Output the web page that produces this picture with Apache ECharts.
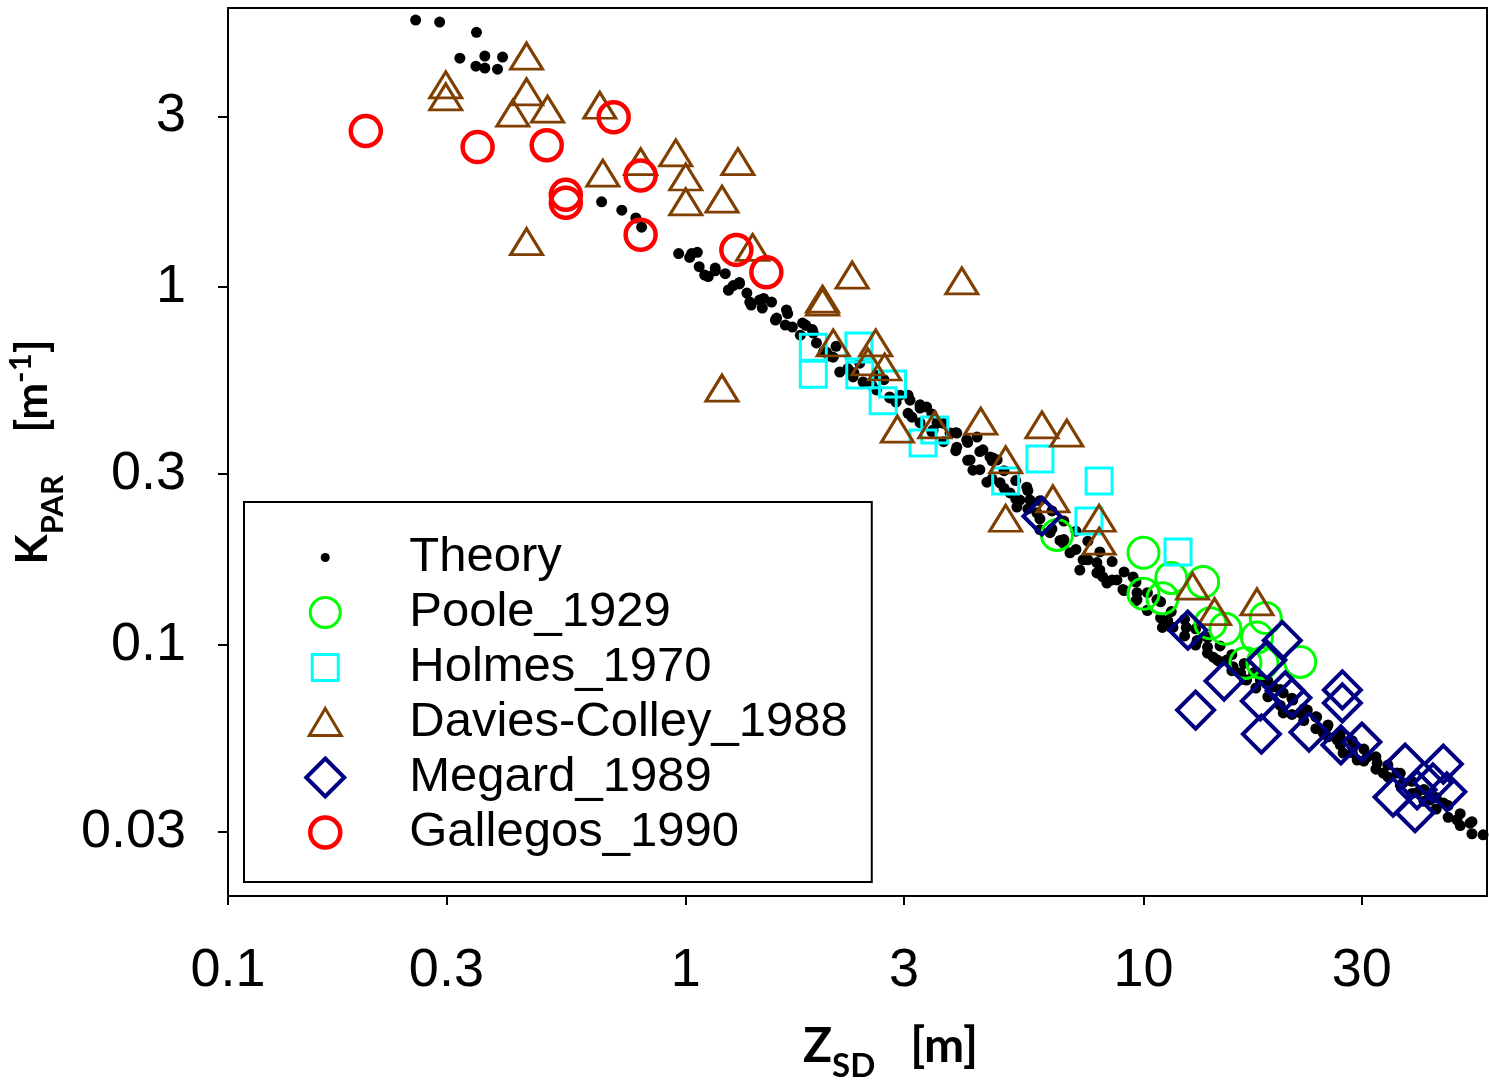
<!DOCTYPE html>
<html>
<head>
<meta charset="utf-8">
<script src="https://cdn.jsdelivr.net/npm/echarts@6/dist/echarts.min.js"></script>
<style>
html,body{margin:0;padding:0;background:#fff;}
#chart{width:1489px;height:1080px;}
</style>
</head>
<body>
<div id="chart"></div>
<script>
// ---- Data (Z_SD [m], K_PAR [1/m]) ----
const xTicks = [0.1, 0.3, 1, 3, 10, 30];
const yTicks = [0.03, 0.1, 0.3, 1, 3];

const theory = [
  [0.257,5.57],[0.290,5.50],[0.349,5.15],[0.321,4.36],[0.348,4.14],[0.364,4.42],[0.364,4.09],[0.388,4.06],[0.398,4.39],
  [0.655,1.73],[0.725,1.64],[0.778,1.56],[0.801,1.47],[0.965,1.24],[1.02,1.21],[1.06,1.25],[1.07,1.14],[1.12,1.07],
  [1.16,1.11],[1.22,1.09],[1.24,0.981],[1.27,1.01],[1.31,1.03],[1.36,0.962],[1.38,0.908],[1.45,0.920],[1.47,0.874],
  [1.54,0.908],[1.58,0.819],[1.66,0.863],[1.65,0.783],[1.71,0.773],[1.80,0.793],[1.90,0.744],[1.93,0.698],[2.03,0.658],
  [2.10,0.637],[2.17,0.579],[2.32,0.561],[2.44,0.543],[2.61,0.516],[2.79,0.493],[2.94,0.499],[3.09,0.483],[3.12,0.433],
  [3.25,0.459],[3.36,0.462],[3.47,0.399],[3.54,0.417],[3.78,0.391],[3.91,0.357],[3.91,0.391],[4.11,0.374],[4.33,0.381],
  [4.46,0.351],[4.18,0.329],[4.24,0.308],[4.62,0.335],[4.69,0.333],[4.55,0.285],[4.79,0.329],[4.86,0.284],[5.11,0.266],
  [5.29,0.243],[5.56,0.276],[5.65,0.254],[5.37,0.254],[5.85,0.234],[5.94,0.210],[6.25,0.206],[6.57,0.196],[6.67,0.193],
  [6.91,0.181],[7.26,0.162],[7.38,0.173],[7.91,0.170],[7.91,0.159],[8.15,0.155],[8.32,0.149],[8.75,0.152],[9.02,0.143],
  [9.49,0.155],[9.68,0.140],[9.68,0.134],[10.2,0.125],[10.7,0.134],[11.0,0.112],[11.3,0.117],[11.6,0.112],[12.4,0.112],
  [13.1,0.103],[13.8,0.0987],[14.2,0.0925],[14.5,0.0908],[15.2,0.0908],[15.7,0.0869],[16.3,0.0836],[16.8,0.0798],
  [17.4,0.0836],[18.0,0.0798],[19.2,0.0764],[20.2,0.0735],[20.2,0.0646],[21.2,0.0702],[22.0,0.0646],[22.8,0.0658],
  [23.9,0.0629],[24.7,0.0568],[25.2,0.0590],[26.5,0.0543],[26.9,0.0553],[27.3,0.0499],[28.7,0.0519],[29.3,0.0477],
  [30.8,0.0486],[32.4,0.0468],[33.4,0.0439],[35.8,0.0439],[36.9,0.0412],[39.6,0.0387],[42.3,0.0369],[45.2,0.0362],
  [48.4,0.0325],[51.7,0.0318],[55.2,0.0295],
  // further points read along the edges of the dense band
  [1.03,1.24],[1.10,1.08],[1.16,1.13],[1.24,0.981],[1.31,1.02],[1.39,0.891],[1.48,0.929],[1.57,0.809],[1.67,0.843],
  [1.78,0.734],[1.83,0.782],[1.89,0.761],[2.00,0.659],[2.06,0.642],[2.13,0.683],[2.26,0.592],[2.33,0.576],[2.40,0.613],
  [2.55,0.531],[2.63,0.566],[2.71,0.551],[2.79,0.490],[2.88,0.477],
  [3.06,0.499],[3.06,0.444],[3.25,0.469],[3.25,0.418],[3.45,0.442],[3.45,0.394],[3.66,0.416],[3.66,0.370],
  [3.89,0.392],[3.89,0.349],[4.13,0.368],[4.13,0.328],[4.39,0.347],[4.39,0.309],[4.67,0.327],[4.67,0.291],
  [4.96,0.307],[4.96,0.274],[5.26,0.288],[5.26,0.256],[5.59,0.270],[5.59,0.240],[5.94,0.253],[5.94,0.225],
  [6.31,0.237],[6.31,0.211],[6.70,0.222],[6.70,0.197],[7.12,0.208],[7.12,0.185],[7.56,0.195],[7.56,0.173],
  [8.03,0.182],[8.03,0.162],[8.54,0.171],[8.54,0.152],[9.07,0.160],[9.07,0.142],[9.63,0.150],[9.63,0.133],
  [10.2,0.140],[10.2,0.125],[10.9,0.132],[10.9,0.119],[11.5,0.124],[11.5,0.112],[12.3,0.118],[12.3,0.106],
  [13.0,0.111],[13.0,0.100],[13.8,0.105],[13.8,0.0949],[14.7,0.0994],[14.7,0.0897],[15.6,0.0940],[15.6,0.0848],
  [16.6,0.0888],[16.6,0.0801],[17.6,0.0840],[17.6,0.0758],[18.7,0.0794],[18.7,0.0717],[19.9,0.0751],[19.9,0.0678],
  [21.1,0.0710],[21.1,0.0640],[22.4,0.0664],[22.4,0.0615],[23.8,0.0630],[23.8,0.0584],[25.3,0.0598],[25.3,0.0554],
  [26.9,0.0568],[26.9,0.0526],[28.6,0.0540],[28.6,0.0500],[30.3,0.0512],[30.3,0.0474],[32.2,0.0487],[32.2,0.0450],
  [34.2,0.0462],[34.2,0.0428],[36.4,0.0438],[36.4,0.0406],[38.6,0.0416],[38.6,0.0385],[41.0,0.0395],[41.0,0.0366],
  [43.6,0.0375],[43.6,0.0348],[46.3,0.0356],[46.3,0.0330],[49.2,0.0338],[49.2,0.0313],[52.2,0.0321],[52.2,0.0297]
];

const poole1929 = [
  [6.47,0.203],[10.0,0.181],[11.5,0.154],[13.5,0.150],[10.0,0.139],[11.0,0.135],[14.0,0.115],
  [15.1,0.111],[18.5,0.119],[17.7,0.105],[16.7,0.0891],[18.2,0.0891],[22.0,0.0897]
];

const holmes1970 = [
  [1.90,0.679],[1.90,0.571],[2.39,0.684],[2.40,0.568],[2.83,0.536],[2.70,0.481],[3.50,0.399],
  [3.30,0.367],[5.94,0.331],[5.00,0.287],[8.00,0.287],[7.60,0.222],[11.9,0.182]
];

const daviesColley1988 = [
  [0.299,3.67],[0.299,3.40],[0.449,4.42],[0.449,3.51],[0.419,3.06],[0.499,3.14],[0.649,3.22],
  [0.659,2.08],[0.797,2.24],[0.951,2.37],[1.00,2.03],[1.00,1.73],[1.20,1.76],[1.30,2.24],
  [0.449,1.34],[1.40,1.29],[2.31,1.08],[4.01,1.04],[1.99,0.925],[1.99,0.908],[2.10,0.698],
  [2.60,0.698],[2.50,0.618],[2.72,0.598],[1.20,0.522],[2.90,0.401],[3.50,0.412],[4.41,0.422],
  [6.00,0.412],[6.80,0.391],[5.00,0.329],[5.00,0.226],[6.34,0.256],[8.00,0.226],[8.00,0.195],
  [12.8,0.146],[14.3,0.124],[17.7,0.132]
];

const megard1989 = [
  [6.00,0.229],[12.5,0.110],[20.1,0.103],[18.6,0.0908],[15.0,0.0793],[13.0,0.0658],[18.0,0.0698],
  [20.4,0.0745],[21.1,0.0712],[18.1,0.0564],[23.0,0.0571],[27.2,0.0749],[27.2,0.0689],[27.0,0.0526],
  [30.0,0.0536],[37.3,0.0468],[45.2,0.0465],[42.9,0.0412],[46.0,0.0389],[35.1,0.0376],[39.2,0.0340],
  [39.6,0.0394]
];

const gallegos1990 = [
  [0.200,2.73],[0.351,2.46],[0.497,2.49],[0.696,2.98],[0.547,1.81],[0.547,1.72],[0.797,2.05],
  [0.797,1.40],[1.29,1.27],[1.50,1.10]
];

const seriesNames = ['Theory','Poole_1929','Holmes_1970','Davies-Colley_1988','Megard_1989','Gallegos_1990'];

// ---- Chart ----
const chart = echarts.init(document.getElementById('chart'), null, {renderer:'canvas'});
const fmt = v => String(parseFloat(Number(v).toPrecision(6)));
const hollow = (c, w) => ({color:'rgba(0,0,0,0)', borderColor:c, borderWidth:w, opacity:1});

const legendIcons = {
  'Theory': 'path://M0,0M40,40M24.5,20A4.5,4.5,0,1,1,15.5,20A4.5,4.5,0,1,1,24.5,20Z',
  'Poole_1929': 'path://M0,0M40,40M35,20A15,15,0,1,1,5,20A15,15,0,1,1,35,20Z',
  'Holmes_1970': 'path://M0,0M40,40M7,7L33,7L33,33L7,33Z',
  'Davies-Colley_1988': 'path://M0,0M40,40M20,6L36,33L4,33Z',
  'Megard_1989': 'path://M0,0M40,40M20,1L39,20L20,39L1,20Z',
  'Gallegos_1990': 'path://M0,0M40,40M35,20A15,15,0,1,1,5,20A15,15,0,1,1,35,20Z'
};
const legendStyles = {
  'Theory': {color:'#000', borderWidth:0, opacity:1},
  'Poole_1929': hollow('#00FF00',3),
  'Holmes_1970': hollow('#00FFFF',3),
  'Davies-Colley_1988': hollow('#7F3F00',3),
  'Megard_1989': hollow('#000080',4),
  'Gallegos_1990': hollow('#FF0000',4.5)
};

const axisFont = 'Liberation Sans, Arial, sans-serif';

chart.setOption({
  animation:false,
  backgroundColor:'#fff',
  grid:{left:228, top:8, right:2, bottom:184, containLabel:false, outerBoundsMode:'none',
        show:true, borderColor:'#000', borderWidth:2, backgroundColor:'transparent'},
  xAxis:{
    type:'log', logBase:10, min:0.1, max:56.3,
    axisLine:{show:true, onZero:false, lineStyle:{color:'#000', width:2}},
    axisTick:{show:true, inside:false, length:9, customValues:xTicks, lineStyle:{color:'#000', width:2}},
    axisLabel:{show:true, customValues:xTicks, fontSize:54, color:'#000', fontFamily:axisFont, margin:48, formatter:fmt},
    splitLine:{show:false}, minorTick:{show:false},
    name:'{b|Z}{sub|SD}{b|   [m]}', nameLocation:'middle', nameGap:114, nameMoveOverlap:false,
    nameTextStyle:{padding:[0,0,0,66], rich:{
      b:{fontSize:48, fontWeight:'bold', fontFamily:'Lato', color:'#000'},
      sub:{fontSize:33, fontWeight:'bold', fontFamily:'Lato', color:'#000', padding:[40,0,0,0]}
    }}
  },
  yAxis:{
    type:'log', logBase:10, min:0.0199, max:6.02,
    axisLine:{show:true, onZero:false, lineStyle:{color:'#000', width:2}},
    axisTick:{show:true, inside:false, length:10, customValues:yTicks, lineStyle:{color:'#000', width:2}},
    axisLabel:{show:true, customValues:yTicks, fontSize:54, color:'#000', fontFamily:axisFont, margin:42, formatter:fmt},
    splitLine:{show:false}, minorTick:{show:false},
    name:'{b|K}{sub|PAR}{b|    [m}{sup|-1}{b|]}', nameLocation:'middle', nameGap:160, nameRotate:90, nameMoveOverlap:false,
    nameTextStyle:{rich:{
      b:{fontSize:44, fontWeight:'bold', fontFamily:'Lato', color:'#000'},
      sub:{fontSize:31, fontWeight:'bold', fontFamily:'Lato', color:'#000', padding:[40,0,0,0]},
      sup:{fontSize:31, fontWeight:'bold', fontFamily:'Lato', color:'#000', padding:[0,0,24,0]}
    }}
  },
  legend:{
    show:true, orient:'vertical', left:244, top:502,
    selectedMode:false,
    backgroundColor:'#fff', borderColor:'#000', borderWidth:2,
    padding:[31,24,25,59],
    itemWidth:40, itemHeight:40, itemGap:6,
    textStyle:{fontSize:49, fontFamily:axisFont, color:'#000', padding:[0,0,0,59], lineHeight:48},
    data: seriesNames.map(n => ({name:n, icon:legendIcons[n], itemStyle:legendStyles[n]}))
  },
  series:[
    {name:'Theory', type:'scatter', data:theory, symbol:'circle', symbolSize:11, itemStyle:{color:'#000', opacity:1}, z:1},
    {name:'Poole_1929', type:'scatter', data:poole1929, symbol:'circle', symbolSize:31, itemStyle:hollow('#00FF00',3), z:2},
    {name:'Holmes_1970', type:'scatter', data:holmes1970, symbol:'rect', symbolSize:26, itemStyle:hollow('#00FFFF',3), z:2},
    {name:'Davies-Colley_1988', type:'scatter', data:daviesColley1988, symbol:'triangle', symbolSize:[32,26], itemStyle:hollow('#7F3F00',3), z:2},
    {name:'Megard_1989', type:'scatter', data:megard1989, symbol:'diamond', symbolSize:[37,37], itemStyle:hollow('#000080',4), z:2},
    {name:'Gallegos_1990', type:'scatter', data:gallegos1990, symbol:'circle', symbolSize:30, itemStyle:hollow('#FF0000',4.5), z:2}
  ]
});
</script>
</body>
</html>
